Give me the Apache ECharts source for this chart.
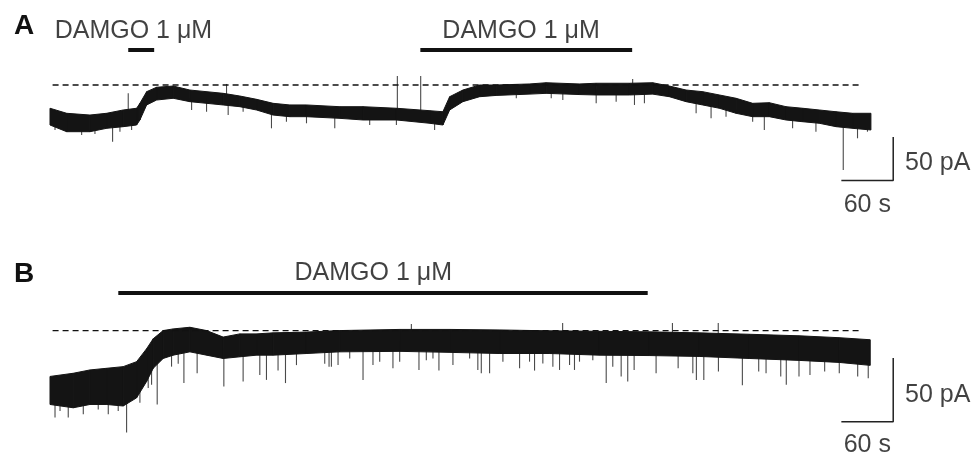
<!DOCTYPE html>
<html><head><meta charset="utf-8">
<script src="https://cdn.jsdelivr.net/npm/echarts@6/dist/echarts.min.js"></script>
<style>html,body{margin:0;padding:0;background:#fff}#c{width:975px;height:458px}</style>
</head><body><div id="c"></div>
<script>
// ---------------- DATA (time in s, current in pA relative to dashed baseline) ----------------
const traceA_t   = [0,19.3,46.2,65.5,84.7,100.2,104,111.8,123.3,142.5,161.8,181.1,200.3,219.6,238.9,258.1,277.4,296.7,335.1,362.1,400.7,439.2,454.5,462.3,477.6,496.9,516.2,554.7,574,612.5,631.8,670.3,697.2,716.5,735.8,755,774.3,793.6,812.8,832.1,851.4,870.6,889.9,909.2,928.4,949.6];
const traceA_top = [-26.8,-32.6,-34.6,-32.6,-28.8,-26.8,-21.1,-7.7,-2.6,-1.2,-5.8,-7.7,-9.6,-12.7,-16.5,-21.1,-23.0,-23.0,-25.0,-25.0,-26.8,-29.6,-30.8,-13.5,-5.8,0,0,1.2,2.6,1.2,2.0,2.0,2.6,-1.2,-5.8,-7.7,-11.5,-15.3,-21.1,-20.4,-25.0,-26.8,-28.8,-30.8,-32.6,-32.6];
const traceA_bot = [-46.1,-53.8,-53.8,-49.9,-48.0,-46.1,-40.3,-23.0,-17.3,-15.3,-19.2,-21.1,-23.0,-25.0,-28.8,-34.6,-36.5,-36.5,-38.4,-40.3,-40.3,-44.1,-46.1,-28.8,-19.2,-13.5,-12.0,-10.5,-9.6,-11.0,-11.5,-11.5,-10.5,-13.5,-19.2,-23.0,-26.8,-32.6,-36.5,-36.5,-40.3,-42.3,-44.1,-48.0,-49.9,-51.8];
const spikeA_t   = [5.8,36.6,52,72.4,80.9,94.4,163.8,181.1,206.1,223.4,256.2,273.5,296.7,329.4,369.8,400.7,444.9,473.8,539.4,579.8,593.2,631.8,654.9,676.1,687.6,747.4,764.7,782,812.8,826.3,859,886,917.6,934.1,945.6, 90.5,204.2,401.8,428.8,674];
const spikeA_tip = [-51.8,-57.6,-56.5,-65.3,-53.8,-51.8,-28.8,-30.8,-34.6,-30.8,-49.9,-42.3,-44.1,-49.9,-46.1,-46.1,-51.8,-19.2,-15.3,-15.3,-17.3,-21.1,-19.2,-23.0,-21.1,-32.6,-38.4,-36.5,-42.3,-51.8,-49.9,-53.8,-97.9,-61.4,-53.8, -9.6,1.2,10.4,10.4,6.9];

const traceB_t   = [0,26.9,46.2,65.5,84.7,100.2,111.8,119.4,130.9,142.5,161.8,181.1,200.3,219.6,238.9,258.1,296.7,335.1,404.5,462.3,520,577.8,635.6,693.4,751.2,809,866.8,913,948.8];
const traceB_top = [-36.0,-33.5,-30.9,-29.6,-28.3,-24.4,-14.2,-6.4,0,1.3,2.6,0,-5.1,-2.6,-2.6,-1.8,-1.2,0,0.9,0.9,0.5,-0.2,-0.6,-1.0,-1.8,-2.9,-4.1,-5.6,-7.2];
const traceB_bot = [-58.0,-60.6,-58.0,-58.0,-59.2,-52.8,-39.9,-29.6,-21.9,-19.3,-16.7,-19.3,-21.9,-20.6,-19.3,-19.3,-18.0,-16.7,-16.3,-17.1,-18.0,-18.0,-19.3,-19.6,-20.3,-21.9,-23.4,-25.0,-27.3];
const spikeB_t   = [5.8,11.6,21.1,38.5,55.8,67.4,78.9,88.6,104,113.6,117.5,124,140.6,148.3,154.9,170.2,201.1,223.4,242.7,250.4,263.8,272.4,285.1,317.8,322.8,333.2,362.1,396.7,426.8,449.9,498.9,508.5,543.2,560.5,589.4,606.7,643.4,660.7,668.3,747.7,800.9,851.7,946.5,
                    325.5,346.7,373.6,381.4,404.5,435.3,443,466.1,485.4,494.9,523.9,554.7,570.1,581.7,601,612.5,627.9,651,675.7,701.1,726.6,743.6,756.3,773.2,819.8,828.3,845.3,866.4,879.1,896.1,913,934.3,
                    418,593,720,773];
const spikeB_tip = [-68.3,-63.1,-68.3,-65.7,-61.9,-65.7,-63.1,-79.9,-56.7,-45.1,-42.5,-58.0,-28.3,-26.0,-41.2,-33.5,-43.8,-39.9,-34.8,-38.7,-31.4,-41.2,-27.1,-26.0,-28.3,-27.1,-38.7,-29.6,-30.9,-31.4,-33.5,-33.5,-29.6,-31.4,-30.9,-30.9,-41.2,-36.0,-39.9,-38.7,-43.0,-42.5,-37.4,
                    -28.3,-21.9,-27.1,-24.4,-24.4,-23.2,-21.9,-27.1,-21.9,-30.9,-24.4,-24.4,-25.8,-28.3,-27.1,-24.4,-23.2,-28.3,-30.9,-33.5,-29.6,-33.5,-38.7,-32.2,-32.2,-33.5,-36.0,-36.0,-34.8,-32.2,-33.5,-36.0,
                    5.2,6,6,6];

const drugLabel = 'DAMGO 1 μM';
const drugA_start = [90.5, 428.4];
const drugA_end   = [120.5, 673.4];
const drugB_start = [79];
const drugB_end   = [691.4];
const baselineSpan = [3, 939];
const scaleTime = 60, scaleCurrent = 50;
const scaleTimeLabel = '60 s', scaleCurrentLabel = '50 pA';

// ---------------- LAYOUT ----------------
const FONT = "'Liberation Sans', Arial, Helvetica, sans-serif";
const INK = '#141414';
const pxPerSec = 0.8653, gridLeft = 50, xMax = 1070;
const panels = [
  {name:'A', zeroY:85,    pxPerPA:0.868, yMin:-150, yMax:95, barLevel:40.2, labelLevel:62, labelT:[96.5,544.9],
   scaleT0:915.4, scaleTop:-60, tCur:989, vCur:-89.5, tSec:945.4, vSec:-138.5, letterTop:7,
   t:traceA_t, top:traceA_top, bot:traceA_bot, st:spikeA_t, sv:spikeA_tip, ds:drugA_start, de:drugA_end},
  {name:'B', zeroY:331.7, pxPerPA:1.293, yMin:-100, yMax:60, barLevel:29.4, labelLevel:44.9, labelT:[373.9],
   scaleT0:915.4, scaleTop:-21.5, tCur:989, vCur:-50.3, tSec:945.4, vSec:-90.2, letterTop:255,
   t:traceB_t, top:traceB_top, bot:traceB_bot, st:spikeB_t, sv:spikeB_tip, ds:drugB_start, de:drugB_end}
];

function interp(ts, vs, t){
  if (t <= ts[0]) return vs[0];
  for (let i=1;i<ts.length;i++){ if (t<=ts[i]){ const f=(t-ts[i-1])/(ts[i]-ts[i-1]); return vs[i-1]+f*(vs[i]-vs[i-1]); } }
  return vs[vs.length-1];
}

const grid=[], xAxis=[], yAxis=[], series=[], title=[];
panels.forEach((p, i) => {
  grid.push({left:gridLeft, width:xMax*pxPerSec, top:p.zeroY - p.yMax*p.pxPerPA, height:(p.yMax-p.yMin)*p.pxPerPA});
  xAxis.push({type:'value', gridIndex:i, min:0, max:xMax, show:false});
  yAxis.push({type:'value', gridIndex:i, min:p.yMin, max:p.yMax, show:false});
  title.push({text:p.name, left:9, top:p.letterTop, textStyle:{fontFamily:FONT, fontWeight:'bold', fontSize:28, color:'#111'}});
  const ax = {xAxisIndex:i, yAxisIndex:i, silent:true, animation:false};
  // spikes (drawn under the band)
  series.push(Object.assign({type:'custom', clip:false, data:p.st.map((t,k)=>[t,p.sv[k]]),
    renderItem:(params, api) => {
      const t = api.value(0), tip = api.value(1);
      const mid = (interp(p.t,p.top,t)+interp(p.t,p.bot,t))/2;
      const a = api.coord([t, tip]), b = api.coord([t, mid]);
      return {type:'line', shape:{x1:a[0], y1:a[1], x2:b[0], y2:b[1]}, style:{stroke:'#4a4a4a', lineWidth:1.1}};
    }}, ax));
  // band: one quadrilateral per segment between consecutive samples of top/bottom envelopes
  const seg = [];
  for (let k=0;k<p.t.length-1;k++) seg.push([p.t[k],p.top[k],p.bot[k],p.t[k+1],p.top[k+1],p.bot[k+1]]);
  series.push(Object.assign({type:'custom', clip:false, data:seg,
    renderItem:(params, api) => {
      const a=api.coord([api.value(0),api.value(1)]), b=api.coord([api.value(3),api.value(4)]),
            c=api.coord([api.value(3),api.value(5)]), d=api.coord([api.value(0),api.value(2)]);
      return {type:'polygon', shape:{points:[a,b,c,d]}, style:{fill:INK, stroke:INK, lineWidth:1}};
    }}, ax));
  // dashed baseline
  series.push(Object.assign({type:'line', symbol:'none', data:[[baselineSpan[0],0],[baselineSpan[1],0]],
    lineStyle:{color:'#111', width:1.3, type:[6,4]}}, ax));
  // drug bars
  p.ds.forEach((s,k)=>{
    series.push(Object.assign({type:'line', symbol:'none', data:[[s,p.barLevel],[p.de[k],p.barLevel]],
      lineStyle:{color:'#111', width:4, cap:'butt'}}, ax));
  });
  // scale bar
  series.push(Object.assign({type:'line', symbol:'none', clip:false,
    data:[[p.scaleT0+scaleTime,p.scaleTop],[p.scaleT0+scaleTime,p.scaleTop-scaleCurrent],[p.scaleT0,p.scaleTop-scaleCurrent]],
    lineStyle:{color:'#222', width:1.5}}, ax));
  // text labels
  const lab = (t,v,text,align) => ({value:[t,v], label:{show:true, formatter:text, position:'inside', align:align, verticalAlign:'middle',
    fontFamily:FONT, fontSize:25, color:'#111'}});
  const labels = p.labelT.map(t=>lab(t,p.labelLevel,drugLabel,'center'));
  labels.push(lab(p.tCur,p.vCur,scaleCurrentLabel,'left'));
  labels.push(lab(p.tSec,p.vSec,scaleTimeLabel,'center'));
  series.push(Object.assign({type:'scatter', symbolSize:0, clip:false, data:labels}, ax));
});

const chart = echarts.init(document.getElementById('c'), null, {renderer:'canvas'});
chart.setOption({animation:false, backgroundColor:'#fff', title, grid, xAxis, yAxis, series});
</script></body></html>
